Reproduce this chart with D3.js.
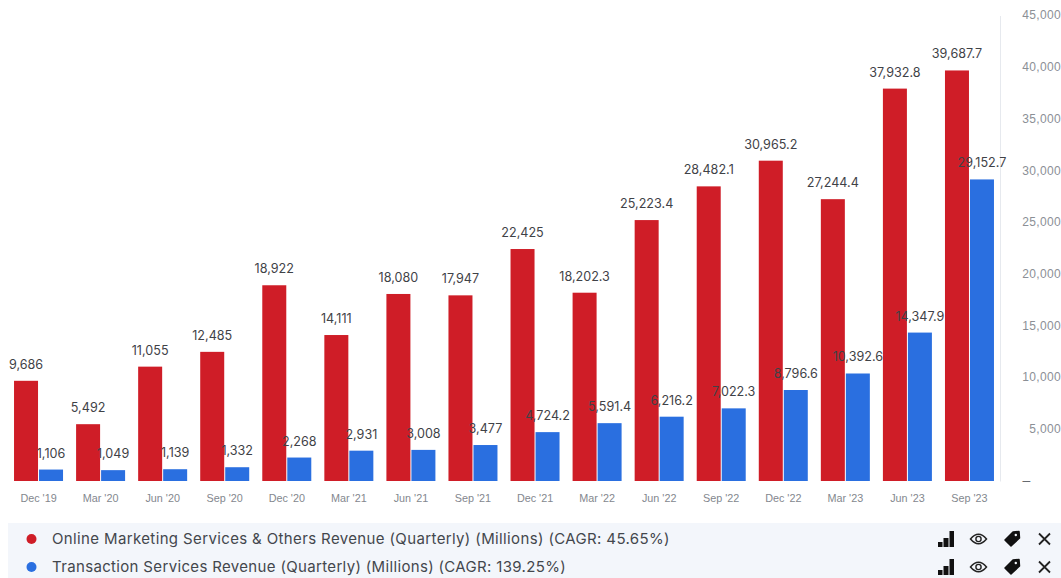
<!DOCTYPE html>
<html>
<head>
<meta charset="utf-8">
<script src="https://cdn.jsdelivr.net/npm/d3@7/dist/d3.min.js"></script>
<style>
html,body{margin:0;padding:0;background:#fff;}
svg{display:block;font-family:Inter,"Noto Sans",sans-serif;}
</style>
</head>
<body>
<svg id="chart" width="1061" height="578"></svg>
<script>
const quarters = ["Dec '19","Mar '20","Jun '20","Sep '20","Dec '20","Mar '21","Jun '21","Sep '21","Dec '21","Mar '22","Jun '22","Sep '22","Dec '22","Mar '23","Jun '23","Sep '23"];
const onlineMarketing = [9686,5492,11055,12485,18922,14111,18080,17947,22425,18202.3,25223.4,28482.1,30965.2,27244.4,37932.8,39687.7];
const transactionServices = [1106,1049,1139,1332,2268,2931,3008,3477,4724.2,5591.4,6216.2,7022.3,8796.6,10392.6,14347.9,29152.7];
const onlineLabels = ["9,686","5,492","11,055","12,485","18,922","14,111","18,080","17,947","22,425","18,202.3","25,223.4","28,482.1","30,965.2","27,244.4","37,932.8","39,687.7"];
const transactionLabels = ["1,106","1,049","1,139","1,332","2,268","2,931","3,008","3,477","4,724.2","5,591.4","6,216.2","7,022.3","8,796.6","10,392.6","14,347.9","29,152.7"];
const yTicks = [0,5000,10000,15000,20000,25000,30000,35000,40000,45000];
const legendNames = ["Online Marketing Services & Others Revenue (Quarterly) (Millions) (CAGR: 45.65%)","Transaction Services Revenue (Quarterly) (Millions) (CAGR: 139.25%)"];
const seriesColors = ["#cf1d27","#2a6fe0"];

const svg = d3.select("#chart");
const x = d3.scaleBand().domain(quarters).range([7.5,1000.5]).paddingInner(0).paddingOuter(0);
const y = d3.scaleLinear().domain([0,45000]).range([481,15.5]);
const barW = 24, barGap = 1;
const centre = q => x(q) + x.bandwidth()/2;

// vertical axis on the right, with a thin rule and grey labels
const yAxis = d3.axisRight(y).tickValues(yTicks).tickSize(0).tickPadding(21)
  .tickFormat(d => d === 0 ? "\u2013" : d3.format(",")(d));
const yG = svg.append("g").attr("transform","translate(1000,0)").call(yAxis);
yG.select(".domain").attr("stroke","#e6e9ee").attr("stroke-width",1);
yG.selectAll("text").attr("fill","#8b8f96").attr("font-size",12).attr("letter-spacing",0.35)
  .attr("text-anchor","end").attr("x",61).attr("dy","0.28em");
yG.selectAll("text").filter(d => d === 0)
  .attr("text-anchor","middle").attr("x",26.5).attr("font-size",14).attr("fill","#666a70");

// horizontal axis: labels only
const xAxis = d3.axisBottom(x).tickSize(0).tickPadding(13);
const xG = svg.append("g").attr("transform","translate(0,481)").call(xAxis);
xG.select(".domain").remove();
xG.selectAll("text").attr("fill","#83878e").attr("font-size",10.8);

// paired bars per quarter
const series = [
  {vals:onlineMarketing,labels:onlineLabels,color:seriesColors[0],off:-barW-barGap/2},
  {vals:transactionServices,labels:transactionLabels,color:seriesColors[1],off:barGap/2}
];
series.forEach(s => {
  svg.append("g").selectAll("rect").data(quarters).join("rect")
    .attr("x",q => centre(q)+s.off)
    .attr("width",barW)
    .attr("y",(q,i) => y(s.vals[i]))
    .attr("height",(q,i) => y(0)-y(s.vals[i]))
    .attr("fill",s.color);
});
// value labels sit above the bars, the blue ones drawn over neighbouring red bars
series.forEach(s => {
  svg.append("g").selectAll("text").data(quarters).join("text")
    .attr("x",q => centre(q)+s.off+barW/2)
    .attr("y",(q,i) => y(s.vals[i])-12)
    .attr("text-anchor","middle")
    .attr("font-size",12.6)
    .attr("fill","#3f4247")
    .text((q,i) => s.labels[i]);
});

// legend strip
svg.append("rect").attr("x",8).attr("y",523).attr("width",1053).attr("height",55).attr("fill","#f3f6fb");
const rowY = [539,567];
const signalBars = [[938,4.5,3,5],[943.5,5,-1,9],[949.5,4.5,-8,16]];
legendNames.forEach((name,i) => {
  svg.append("circle").attr("cx",31.5).attr("cy",rowY[i]).attr("r",5).attr("fill",seriesColors[i]);
  svg.append("text").attr("x",52).attr("y",rowY[i]+5).attr("font-size",15).attr("letter-spacing",i ? 0.34 : 0.37).attr("fill","#43474d").text(name);
  const g = svg.append("g").attr("transform",`translate(0,${rowY[i]})`).attr("fill","#111");
  // signal-strength glyph
  signalBars.forEach(b => {
    g.append("rect").attr("x",b[0]).attr("y",b[2]).attr("width",b[1]).attr("height",b[3]);
  });
  // eye glyph
  g.append("path").attr("d","M970.5 0Q978.5 -9.5 986.5 0Q978.5 9.5 970.5 0Z").attr("fill","none").attr("stroke","#222").attr("stroke-width",1.5);
  g.append("circle").attr("cx",978.5).attr("cy",0).attr("r",2.6).attr("fill","none").attr("stroke","#222").attr("stroke-width",1.4);
  // tag glyph
  g.append("path").attr("d","M1005 1L1013 -7L1019 -7.5L1019.5 -1L1011 7Z").attr("stroke","#111").attr("stroke-width",1.5).attr("stroke-linejoin","round");
  g.append("circle").attr("cx",1015.8).attr("cy",-4).attr("r",1.2).attr("fill","#f3f6fb");
  // close glyph
  g.append("path").attr("d","M1039 -5.5L1050 5.5M1050 -5.5L1039 5.5").attr("stroke","#222").attr("stroke-width",1.8).attr("fill","none");
});
</script>
</body>
</html>
